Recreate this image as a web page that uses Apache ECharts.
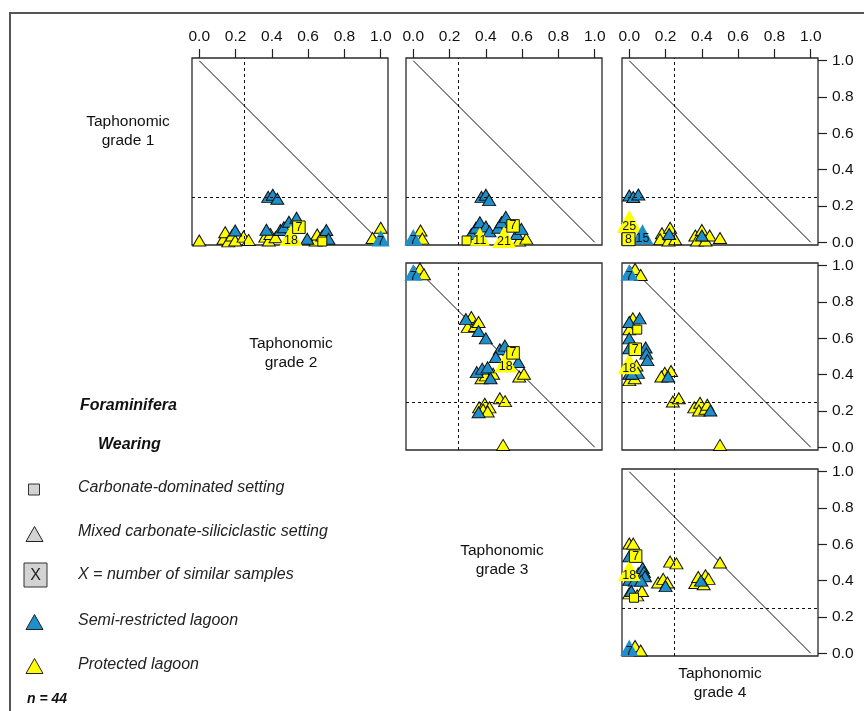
<!DOCTYPE html>
<html>
<head>
<meta charset="utf-8">
<script src="https://cdn.jsdelivr.net/npm/echarts@6/dist/echarts.min.js"></script>
<style>
html, body { margin: 0; padding: 0; background: #ffffff; }
#chart { width: 864px; height: 711px; }
</style>
</head>
<body>
<div id="chart"></div>
<script>
// Tick positions shared by every panel axis (proportion of wear in a grade)
const tickValues = [0, 0.2, 0.4, 0.6, 0.8, 1.0];
const gradeLabels = ['Taphonomic\ngrade 1', 'Taphonomic\ngrade 2', 'Taphonomic\ngrade 3', 'Taphonomic\ngrade 4'];
const legendEntries = [
  'Carbonate-dominated setting',
  'Mixed carbonate-siliciclastic setting',
  'X = number of similar samples',
  'Semi-restricted lagoon',
  'Protected lagoon'
];
const sampleCount = 44;

// ---- grade 2 (x) vs grade 1 (y) ----
const g2g1Yellow = [[0.0,0.01],[0.133,0.019],[0.143,0.055],[0.16,0.005],[0.18,0.037],[0.198,0.01],[0.244,0.031],[0.272,0.013],
  [0.364,0.031],[0.383,0.01],[0.392,0.046],[0.42,0.028],[0.641,0.01],[0.65,0.043],[0.678,0.037],[0.955,0.024],[1.0,0.08]];
const g2g1Blue = [[0.198,0.065],[0.37,0.069],[0.38,0.25],[0.405,0.262],[0.43,0.24],[0.447,0.068],[0.466,0.083],[0.494,0.113],
  [0.536,0.135],[0.595,0.019],[0.70,0.068],[0.712,0.019]];
const g2g1Square = [[0.678,0.004]];
// groups: [x, y, kind, number of similar samples]
const g2g1Groups = [[1.0,0.022,'B',7],[0.505,0.037,'Y',18],[0.549,0.083,'S',7]];

// ---- grade 3 (x) vs grade 1 (y) ----
const g3g1Yellow = [[0.04,0.065],[0.05,0.02],[0.583,0.01],[0.623,0.02]];
const g3g1Blue = [[0.376,0.25],[0.40,0.262],[0.418,0.232],[0.32,0.046],[0.345,0.08],[0.367,0.11],[0.40,0.087],[0.42,0.06],
  [0.468,0.08],[0.486,0.11],[0.51,0.14],[0.57,0.046],[0.596,0.074]];
const g3g1Square = [[0.294,0.01]];
const g3g1Groups = [[0.0,0.028,'B',7],[0.367,0.031,'Y',11],[0.50,0.028,'Y',21],[0.55,0.09,'S',7]];

// ---- grade 4 (x) vs grade 1 (y) ----
const g4g1Yellow = [[0.18,0.05],[0.17,0.017],[0.225,0.08],[0.216,0.01],[0.253,0.017],[0.364,0.037],[0.40,0.068],
  [0.373,0.01],[0.42,0.01],[0.443,0.037],[0.50,0.024]];
const g4g1Blue = [[0.0,0.258],[0.022,0.249],[0.05,0.263],[0.22,0.046],[0.40,0.037]];
const g4g1Square = [];
const g4g1Groups = [[0.0,0.114,'Y',25],[0.073,0.044,'B',15],[-0.004,0.017,'S',8]];

// ---- grade 3 (x) vs grade 2 (y) ----
const g3g2Yellow = [[0.037,0.985],[0.059,0.953],[0.32,0.718],[0.30,0.663],[0.34,0.668],[0.36,0.69],[0.584,0.39],[0.61,0.405],
  [0.376,0.38],[0.40,0.396],[0.44,0.405],[0.477,0.27],[0.506,0.254],[0.363,0.22],[0.394,0.24],[0.42,0.22],[0.385,0.208],
  [0.41,0.197],[0.495,0.013]];
const g3g2Blue = [[0.29,0.706],[0.36,0.64],[0.40,0.60],[0.477,0.54],[0.505,0.56],[0.455,0.497],[0.578,0.47],[0.35,0.414],
  [0.38,0.433],[0.41,0.44],[0.426,0.38],[0.36,0.193]];
const g3g2Square = [];
const g3g2Groups = [[0.0,0.962,'B',7],[0.51,0.47,'Y',18],[0.55,0.52,'S',7]];

// ---- grade 4 (x) vs grade 2 (y) ----
const g4g2Yellow = [[0.032,0.982],[0.063,0.949],[0.02,0.71],[0.0,0.65],[0.0,0.37],[0.03,0.38],[0.04,0.45],[0.196,0.41],
  [0.177,0.39],[0.23,0.42],[0.24,0.252],[0.273,0.27],[0.358,0.22],[0.39,0.245],[0.384,0.203],[0.42,0.212],[0.43,0.234],
  [0.50,0.013]];
const g4g2Blue = [[0.0,0.69],[0.057,0.71],[0.0,0.60],[0.0,0.545],[0.09,0.55],[0.094,0.516],[0.10,0.48],[0.048,0.41],
  [0.0,0.405],[0.015,0.405],[0.214,0.39],[0.447,0.203]];
const g4g2Square = [[0.044,0.648]];
const g4g2Groups = [[0.0,0.962,'B',7],[0.0,0.46,'Y',18],[0.033,0.54,'S',7]];

// ---- grade 4 (x) vs grade 3 (y) ----
const g4g3Yellow = [[0.0,0.605],[0.022,0.604],[0.0,0.33],[0.044,0.319],[0.07,0.343],[0.159,0.39],[0.187,0.41],[0.21,0.39],
  [0.225,0.505],[0.26,0.495],[0.364,0.387],[0.38,0.42],[0.42,0.43],[0.437,0.41],[0.41,0.38],[0.5,0.5],[0.032,0.04],
  [0.063,0.015],[0.05,0.44]];
const g4g3Blue = [[0.0,0.534],[0.074,0.47],[0.081,0.447],[0.087,0.424],[0.0,0.405],[0.03,0.40],[0.066,0.40],[0.011,0.343],
  [0.2,0.37],[0.395,0.40]];
const g4g3Square = [[0.026,0.306]];
const g4g3Groups = [[0.0,0.03,'B',7],[0.0,0.455,'Y',18],[0.035,0.535,'S',7]];

// Panel layout: row = y grade index, col = x grade index
const panels = [
  { row: 0, col: 0, yellow: g2g1Yellow, blue: g2g1Blue, square: g2g1Square, groups: g2g1Groups },
  { row: 0, col: 1, yellow: g3g1Yellow, blue: g3g1Blue, square: g3g1Square, groups: g3g1Groups },
  { row: 0, col: 2, yellow: g4g1Yellow, blue: g4g1Blue, square: g4g1Square, groups: g4g1Groups },
  { row: 1, col: 1, yellow: g3g2Yellow, blue: g3g2Blue, square: g3g2Square, groups: g3g2Groups },
  { row: 1, col: 2, yellow: g4g2Yellow, blue: g4g2Blue, square: g4g2Square, groups: g4g2Groups },
  { row: 2, col: 2, yellow: g4g3Yellow, blue: g4g3Blue, square: g4g3Square, groups: g4g3Groups }
];

const BLUE = '#1E8FCB';
const YELLOW = '#FFFF00';
const FONT = '"Liberation Sans", Arial, Helvetica, sans-serif';
const colLeft = [192, 406, 622];
const rowTop = [58, 263, 469];
const boxW = 196, boxH = 187;

const grids = [], xAxes = [], yAxes = [], series = [];

panels.forEach((p, i) => {
  grids.push({
    left: colLeft[p.col], top: rowTop[p.row], width: boxW, height: boxH,
    show: true, borderColor: '#2a2a2a', borderWidth: 1.3, backgroundColor: 'transparent'
  });
  xAxes.push({
    gridIndex: i, type: 'value', min: -0.04, max: 1.04, position: 'top',
    show: p.row === 0,
    axisLine: { show: false, onZero: false },
    splitLine: { show: false },
    axisTick: { show: true, inside: false, length: 9, customValues: tickValues, lineStyle: { color: '#222', width: 1.2 } },
    axisLabel: { customValues: tickValues, formatter: v => v.toFixed(1), margin: 13,
      fontSize: 15.5, fontFamily: FONT, color: '#111' }
  });
  yAxes.push({
    gridIndex: i, type: 'value', min: -0.015, max: 1.015, position: 'right',
    show: p.col === 2,
    axisLine: { show: false, onZero: false },
    splitLine: { show: false },
    axisTick: { show: true, inside: false, length: 9, customValues: tickValues, lineStyle: { color: '#222', width: 1.2 } },
    axisLabel: { customValues: tickValues, formatter: v => v.toFixed(1), margin: 14,
      fontSize: 15.5, fontFamily: FONT, color: '#111' }
  });

  // 1:1 diagonal plus the 0.25 reference lines
  series.push({
    type: 'line', xAxisIndex: i, yAxisIndex: i, data: [[0, 1], [1, 0]],
    symbol: 'none', silent: true, z: 1,
    lineStyle: { color: '#111', width: 1 },
    markLine: {
      silent: true, symbol: 'none', label: { show: false },
      lineStyle: { color: '#111', width: 1, type: [3, 3] },
      data: [{ xAxis: 0.25 }, { yAxis: 0.25 }]
    }
  });

  const small = { borderColor: '#111', borderWidth: 1, opacity: 1 };
  series.push({
    type: 'scatter', xAxisIndex: i, yAxisIndex: i, data: p.yellow, z: 3,
    symbol: 'triangle', symbolSize: [13, 11],
    itemStyle: Object.assign({ color: YELLOW }, small)
  });
  series.push({
    type: 'scatter', xAxisIndex: i, yAxisIndex: i, data: p.blue, z: 3,
    symbol: 'triangle', symbolSize: [13, 11],
    itemStyle: Object.assign({ color: BLUE }, small)
  });
  series.push({
    type: 'scatter', xAxisIndex: i, yAxisIndex: i, data: p.square, z: 3,
    symbol: 'rect', symbolSize: 9,
    itemStyle: Object.assign({ color: YELLOW }, small)
  });

  // grouped samples: symbol scaled with the number of similar samples
  const groupData = p.groups.map(g => {
    const kind = g[2], n = g[3];
    if (kind === 'S') {
      return {
        value: [g[0], g[1], n],
        symbol: 'rect', symbolSize: 9 + n * 0.5,
        itemStyle: { color: YELLOW, borderColor: '#111', borderWidth: 1, opacity: 1 },
        label: { offset: [0, 0] }
      };
    }
    const w = 10 + Math.sqrt(n) * 3;
    return {
      value: [g[0], g[1], n],
      symbol: 'triangle', symbolSize: [w, w * 0.92],
      itemStyle: { color: kind === 'B' ? BLUE : YELLOW, borderWidth: 0, opacity: 1 },
      label: { offset: [0, w * 0.2] }
    };
  });
  series.push({
    type: 'scatter', xAxisIndex: i, yAxisIndex: i, data: groupData, z: 4,
    label: {
      show: true, position: 'inside', formatter: q => String(q.value[2]),
      fontSize: 12.5, fontFamily: FONT, color: '#111'
    }
  });
});

// Free text: grade names on the diagonal, legend block, frame
const graphics = [];
graphics.push({
  type: 'rect', silent: true, z: 0,
  shape: { x: 10, y: 13, width: 900, height: 800 },
  style: { fill: 'none', stroke: '#555', lineWidth: 2 }
});
const gradePos = [[128, 131], [291, 353], [502, 560], [720, 683]];
gradeLabels.forEach((t, k) => {
  graphics.push({
    type: 'text', x: gradePos[k][0], y: gradePos[k][1], silent: true,
    style: { text: t, font: '15.5px ' + FONT, fill: '#111', textAlign: 'center', align: 'center',
      textVerticalAlign: 'middle', verticalAlign: 'middle', lineHeight: 19 }
  });
});
graphics.push({
  type: 'text', x: 80, y: 406, silent: true,
  style: { text: 'Foraminifera', font: 'italic bold 16px ' + FONT, fill: '#111',
    textVerticalAlign: 'middle', verticalAlign: 'middle' }
});
graphics.push({
  type: 'text', x: 98, y: 445, silent: true,
  style: { text: 'Wearing', font: 'italic bold 16px ' + FONT, fill: '#111',
    textVerticalAlign: 'middle', verticalAlign: 'middle' }
});
const legendY = [488, 532, 575, 621, 665];
legendEntries.forEach((t, k) => {
  graphics.push({
    type: 'text', x: 78, y: legendY[k], silent: true,
    style: { text: t, font: 'italic 16px ' + FONT, fill: '#222',
      textVerticalAlign: 'middle', verticalAlign: 'middle' }
  });
});
const tri = (cx, cy, fill) => ({
  type: 'polygon', silent: true,
  shape: { points: [[cx - 8.5, cy + 7.5], [cx + 8.5, cy + 7.5], [cx, cy - 7.5]] },
  style: { fill: fill, stroke: '#222', lineWidth: 1 }
});
graphics.push({
  type: 'rect', silent: true, shape: { x: 28.5, y: 484, width: 11, height: 11 },
  style: { fill: '#d3d3d3', stroke: '#333', lineWidth: 1 }
});
graphics.push(tri(34.5, 534, '#d3d3d3'));
graphics.push({
  type: 'rect', silent: true, shape: { x: 24, y: 563, width: 23, height: 24 },
  style: { fill: '#d3d3d3', stroke: '#333', lineWidth: 1 }
});
graphics.push({
  type: 'text', x: 35.5, y: 575.5, silent: true,
  style: { text: 'X', font: '16px ' + FONT, fill: '#222', textAlign: 'center', align: 'center',
    textVerticalAlign: 'middle', verticalAlign: 'middle' }
});
graphics.push(tri(34.5, 622, BLUE));
graphics.push(tri(34.5, 666, YELLOW));
graphics.push({
  type: 'text', x: 27, y: 699, silent: true,
  style: { text: 'n = ' + sampleCount, font: 'italic bold 14px ' + FONT, fill: '#111',
    textVerticalAlign: 'middle', verticalAlign: 'middle' }
});

const chart = echarts.init(document.getElementById('chart'), null, { renderer: 'canvas' });
chart.setOption({
  animation: false,
  backgroundColor: '#ffffff',
  grid: grids,
  xAxis: xAxes,
  yAxis: yAxes,
  series: series,
  graphic: { elements: graphics }
});
</script>
</body>
</html>
